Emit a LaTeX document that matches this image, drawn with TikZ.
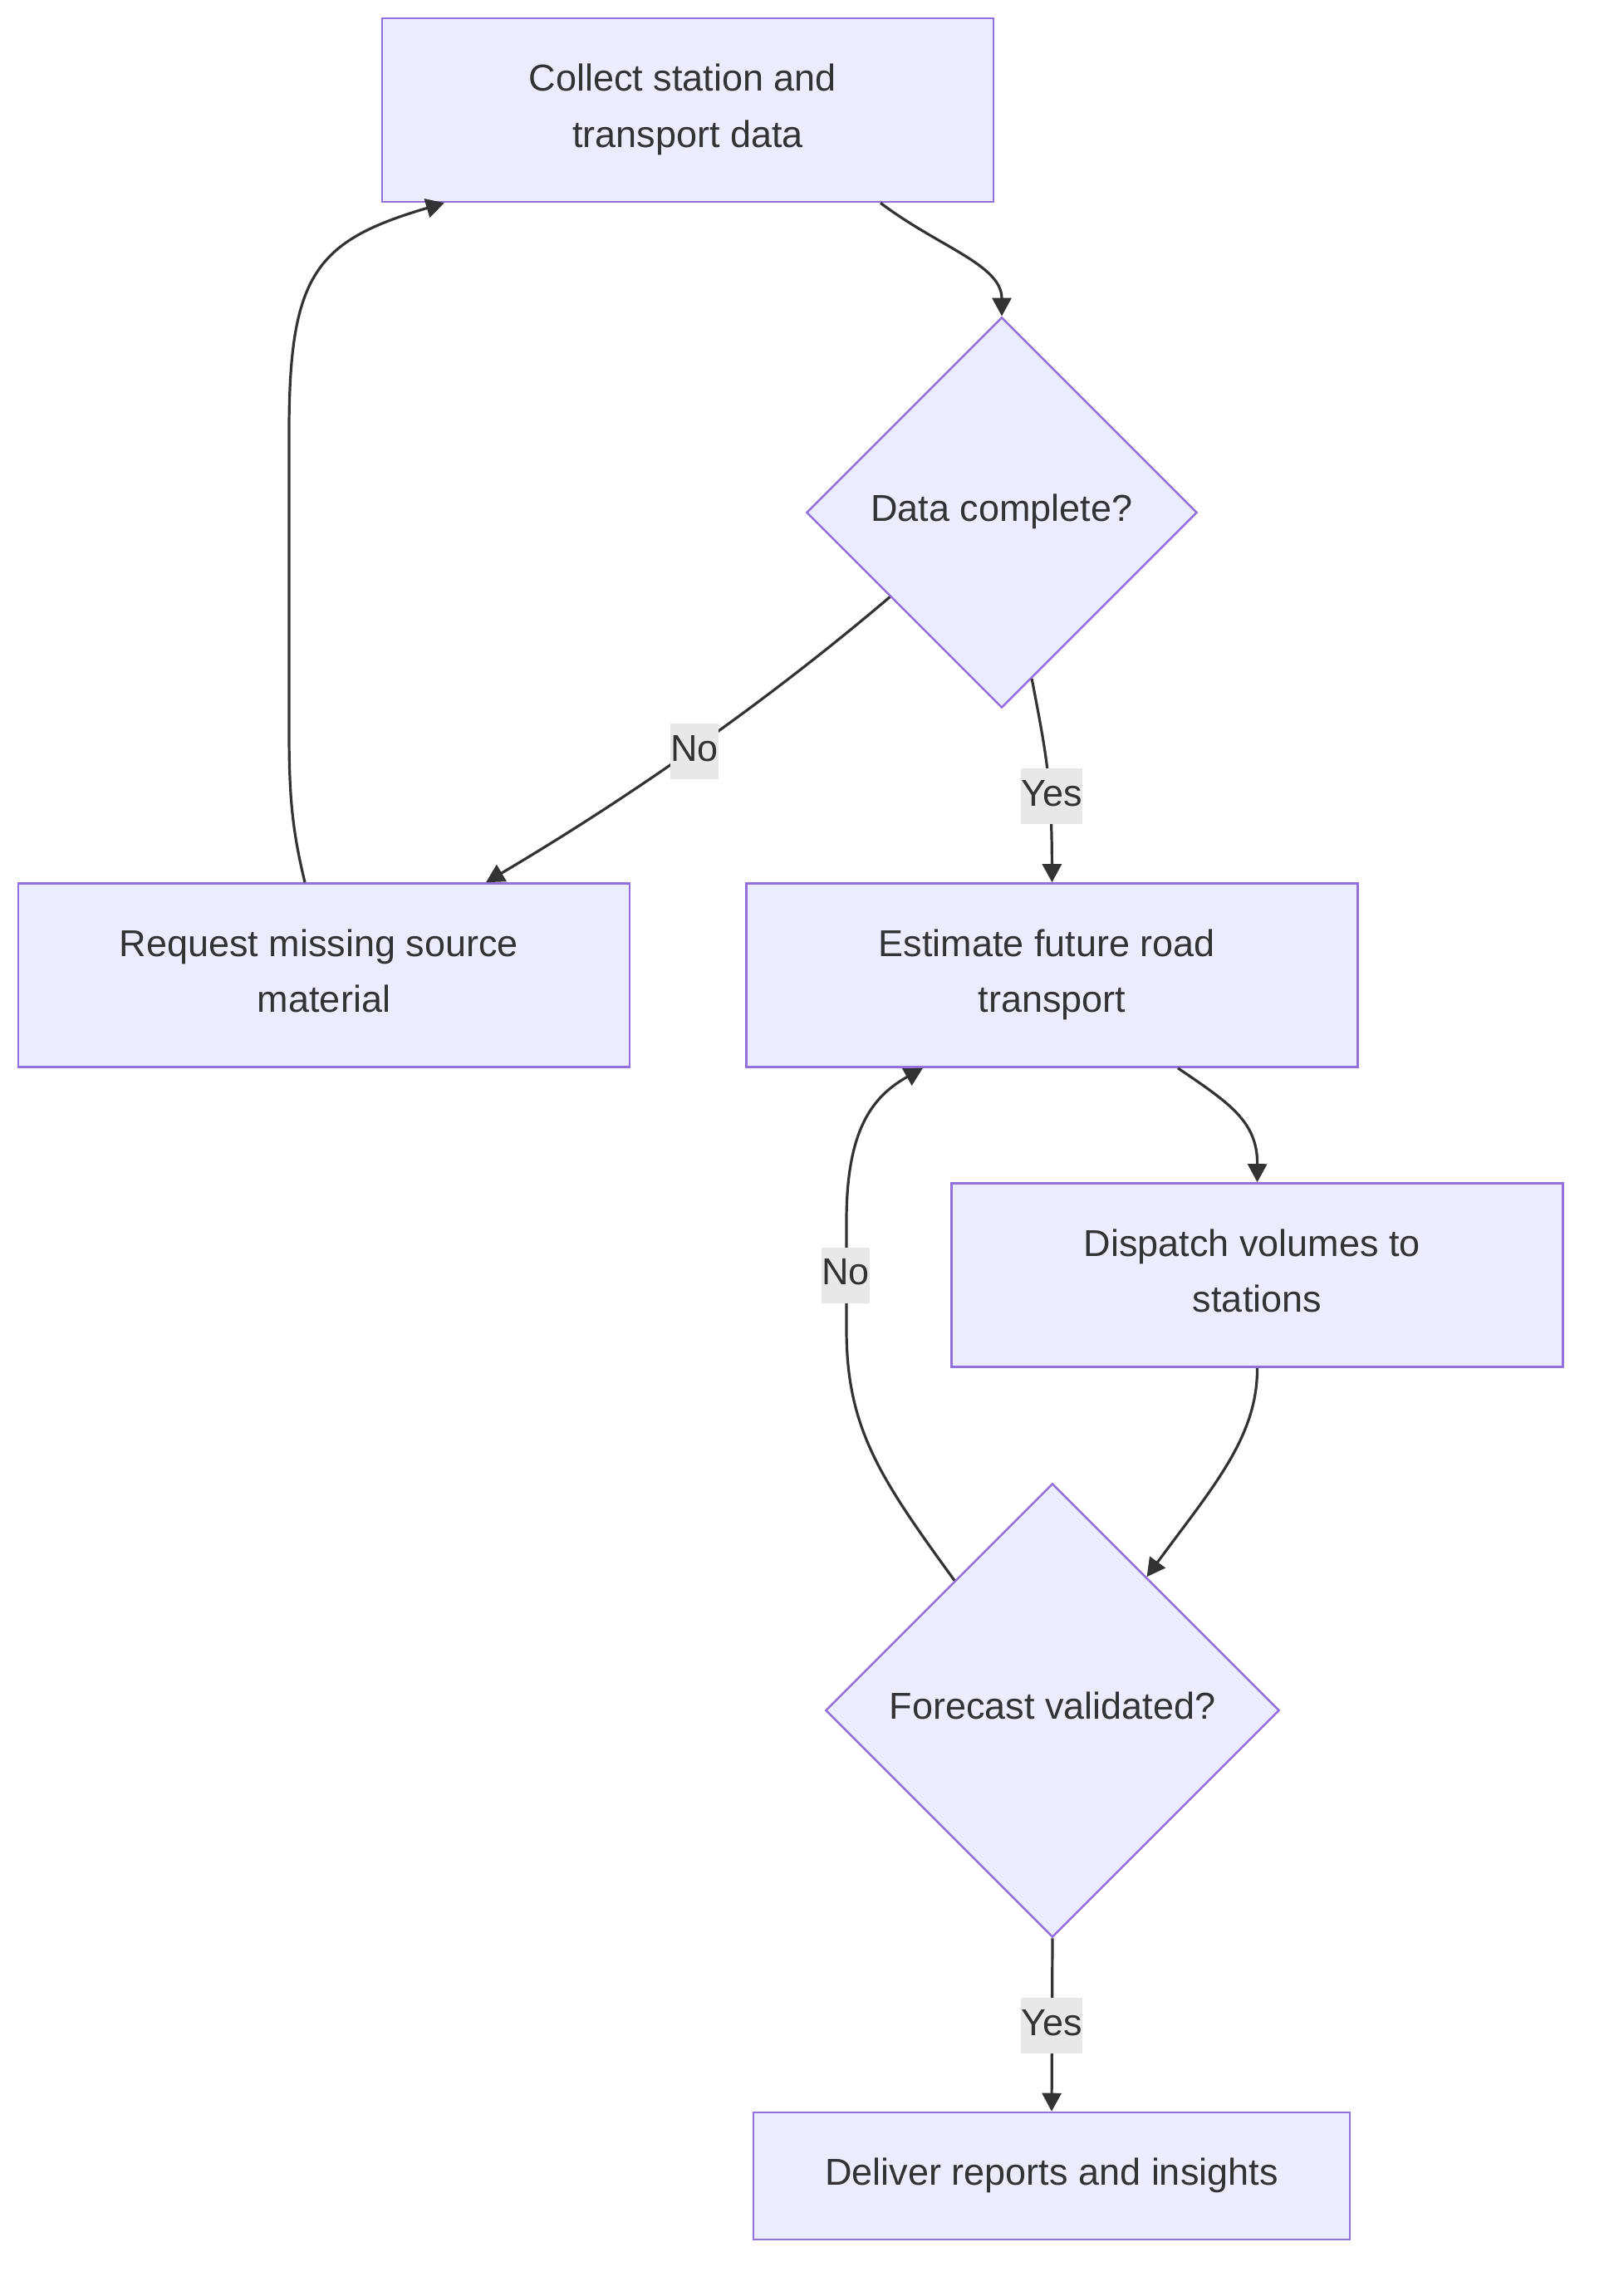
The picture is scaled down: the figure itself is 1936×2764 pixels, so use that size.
\documentclass[tikz,border=0pt]{standalone}
\usepackage{fontspec}
\setmainfont{Liberation Sans}
\usetikzlibrary{arrows.meta,shapes.geometric,calc}
\definecolor{nodefill}{HTML}{ECECFF}
\definecolor{nodeline}{HTML}{9370DB}
\definecolor{txt}{HTML}{333333}
\definecolor{edgecol}{HTML}{333333}
\definecolor{labelbg}{HTML}{E8E8E8}
\newcommand\tsp{\kern.2778em}
\newcommand\topstrut{\rule{0pt}{13.3pt}}
\newcommand\botstrut{\rule[-7.1pt]{0pt}{7.1pt}}
\tikzset{
  procbox/.style={rectangle, draw=nodeline, fill=nodefill, line width=0.025cm,
    text=txt, align=center, inner sep=0pt, minimum width=7.36cm, minimum height=2.21cm,
    font=\fontsize{12.8pt}{19.2pt}\selectfont},
  decision/.style={diamond, aspect=1, draw=nodeline, fill=nodefill, line width=0.025cm,
    text=txt, align=center, inner sep=0pt,
    font=\fontsize{12.8pt}{19.2pt}\selectfont},
  flow/.style={draw=edgecol, line width=0.032cm, line join=round, -{Triangle[length=0.22cm,width=0.23cm]}},
  edgelabel/.style={rectangle, fill=labelbg, text=txt, inner xsep=0pt, inner ysep=0pt,
    text height=12.8pt, text depth=6.26pt, font=\fontsize{12.8pt}{19.2pt}\selectfont}
}
\begin{document}
\begin{tikzpicture}[x=0.01cm,y=-0.01cm]
\useasboundingbox (0,0) rectangle (1936,2764);
\fill[white] (0,0) rectangle (1936,2764);

% nodes
\node[procbox] (collect) at (828,132.5) {\topstrut Collect station and\tsp\\transport data\botstrut};
\node[decision, minimum width=4.7cm, minimum height=4.7cm] (d1) at (1206,617) {\topstrut Data complete?\botstrut};
\node[procbox] (request) at (390,1174) {\topstrut Request missing source\tsp\\material\botstrut};
\node[procbox] (estimate) at (1266.5,1174) {\topstrut Estimate future road\tsp\\transport\botstrut};
\node[procbox] (dispatch) at (1513.5,1535) {\topstrut Dispatch volumes to\tsp\\stations\botstrut};
\node[decision, minimum width=5.46cm, minimum height=5.46cm] (d2) at (1267,2059) {\topstrut Forecast validated?\botstrut};
\node[procbox, minimum width=7.18cm, minimum height=1.53cm] (deliver) at (1266,2619.5) {\topstrut Deliver reports and insights\botstrut};

% connectors
\draw[flow] ($(collect.south)+(232,0)$) .. controls ($(collect.south)+(302,53)$) and ($(d1.north)+(0,-62)$) .. (d1.north);

\draw[flow] ($(d1.west)!0.43!(d1.south)$) .. controls (872,888) and (685,1003) .. ($(request.north)+(195,0)$);

\draw[flow] ($(d1.south)!0.153!(d1.east)$) .. controls (1260,910) and (1266,940) .. (estimate.north);

\draw[flow] ($(request.north)+(-23,0)$) .. controls (352,1000) and (348,960) .. (348,880)
   -- (348,520) .. controls (348,330) and (380,290) .. ($(collect.south)+(-293,0)$);

\draw[flow] ($(estimate.south)+(151.5,0)$) .. controls (1480,1328) and (1514,1350) .. (dispatch.north);

\draw[flow] (dispatch.south) .. controls (1514,1730) and (1460,1790) .. ($(d2.north)!0.414!(d2.east)$);

\draw[flow] ($(d2.north)!0.43!(d2.west)$) .. controls (1060,1780) and (1019,1720) .. (1019,1600)
   -- (1019,1470) .. controls (1019,1360) and (1050,1320) .. ($(estimate.south)+(-155.5,0)$);

\draw[flow] (d2.south) -- (deliver.north);

% edge labels
\node[edgelabel] (l1) at (836,904.5) {No};
\node[edgelabel] (l2) at (1266,958.5) {Yes};
\node[edgelabel] (l3) at (1018,1535) {No};
\node[edgelabel] (l4) at (1266,2438.5) {Yes};
\end{tikzpicture}
\end{document}
